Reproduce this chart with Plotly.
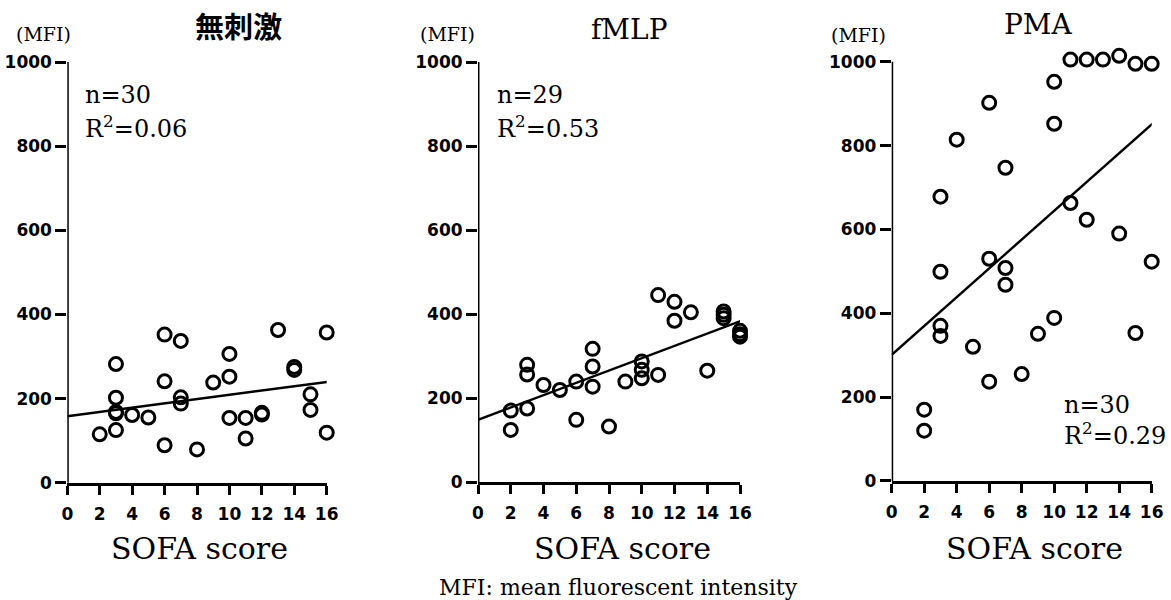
import plotly.graph_objects as go

W, H = 1171, 600

# ---------------- data ----------------
titles = ["無刺激", "fMLP", "PMA"]
n_labels = ["n=30", "n=29", "n=30"]
r2_labels = ["R<sup>2</sup>=0.06", "R<sup>2</sup>=0.53", "R<sup>2</sup>=0.29"]

sofa_nostim = [2, 3, 3, 3, 3, 3, 4, 5, 6, 6, 6, 7, 7, 7, 8, 9, 10, 10, 10, 11, 11, 12, 12, 13, 14, 14, 15, 15, 16, 16]
mfi_nostim = [115, 282, 202, 168, 165, 125, 161, 155, 352, 241, 89, 337, 203, 188, 79, 238, 306, 252, 154, 154, 105, 162, 166, 363, 275, 268, 210, 173, 357, 119]

sofa_fmlp = [2, 2, 3, 3, 3, 4, 5, 6, 6, 7, 7, 7, 8, 9, 10, 10, 10, 11, 11, 12, 12, 13, 14, 15, 15, 15, 16, 16, 16]
mfi_fmlp = [170, 124, 175, 279, 256, 231, 219, 239, 148, 317, 275, 227, 132, 239, 287, 267, 247, 255, 445, 429, 384, 404, 265, 406, 398, 390, 360, 352, 346]

sofa_pma = [2, 2, 3, 3, 3, 3, 4, 5, 6, 6, 6, 7, 7, 7, 8, 9, 10, 10, 10, 11, 11, 12, 12, 13, 14, 14, 15, 15, 16, 16]
mfi_pma = [170, 120, 678, 499, 370, 346, 814, 320, 902, 530, 237, 747, 508, 468, 255, 351, 952, 852, 389, 1005, 663, 1005, 623, 1005, 1014, 590, 995, 353, 995, 523]

fit_x = [[0, 16.3], [0, 16.5], [0, 16.1]]
fit_y = [[158, 241], [148, 390], [301, 854]]

x_ticks = [0, 2, 4, 6, 8, 10, 12, 14, 16]
y_ticks = [0, 200, 400, 600, 800, 1000]
y_axis_span = [0, 1000]
y_range_top = 1040

xs = [sofa_nostim, sofa_fmlp, sofa_pma]
ys = [mfi_nostim, mfi_fmlp, mfi_pma]

# ---------------- layout geometry (pixels) ----------------
px_x = [(67.3, 326.7), (478.0, 740.0), (891.7, 1151.7)]
# (pixel of value 1000, pixel of value 0)
px_y = [(62.0, 482.7), (62.0, 482.0), (61.7, 481.0)]


def fx(p):
    return p / W


def fy(p):
    return 1 - p / H


fig = go.Figure()
layout = dict(
    template="none",
    width=W, height=H,
    margin=dict(l=0, r=0, t=0, b=0, pad=0, autoexpand=False),
    paper_bgcolor="white", plot_bgcolor="white",
    showlegend=False,
)

tickfont = dict(family="DejaVu Sans", size=17, color="black", weight="bold")
serif = "DejaVu Serif"

annotations = []
shapes = []
for i in range(3):
    sx = "" if i == 0 else str(i + 1)
    xa = "x" + sx
    ya = "y" + sx
    top_px = px_y[i][0]
    bot_px = px_y[i][1]
    per_unit = (bot_px - top_px) / 1000.0
    top_dom_px = bot_px - y_range_top * per_unit
    layout["xaxis" + sx] = dict(
        domain=[fx(px_x[i][0]), fx(px_x[i][1])], range=[0, 16], anchor=ya,
        tickvals=x_ticks, ticktext=[str(t) for t in x_ticks],
        showgrid=False, zeroline=False, showline=True, linecolor="black", linewidth=3,
        ticks="outside", ticklen=9, tickwidth=2.5, tickcolor="black",
        tickfont=tickfont, ticklabelstandoff=5, fixedrange=True, automargin=False,
    )
    layout["yaxis" + sx] = dict(
        domain=[fy(bot_px), fy(top_dom_px)], range=[0, y_range_top], anchor=xa,
        tickvals=y_ticks, ticktext=[str(t) for t in y_ticks],
        showgrid=False, zeroline=False, showline=False,
        ticks="outside", ticklen=11, tickwidth=2.5, tickcolor="black",
        tickfont=tickfont, ticklabelstandoff=0, fixedrange=True, automargin=False,
    )
    shapes.append(dict(type="line", xref=xa, yref=ya, x0=0, x1=0,
                       y0=y_axis_span[0], y1=y_axis_span[1],
                       line=dict(color="black", width=3), layer="above"))
    fig.add_trace(go.Scatter(
        x=fit_x[i], y=fit_y[i], mode="lines", xaxis=xa, yaxis=ya,
        line=dict(color="black", width=2.4), cliponaxis=False, hoverinfo="skip",
    ))
    fig.add_trace(go.Scatter(
        x=xs[i], y=ys[i], mode="markers", xaxis=xa, yaxis=ya,
        marker=dict(symbol="circle-open", size=13, color="black", line=dict(width=3, color="black")),
        cliponaxis=False,
    ))

# titles
title_pos = [(239, 25), (629, 29), (1038, 24)]
title_fonts = [dict(family="Noto Sans CJK JP", size=29, color="black", weight="bold"),
               dict(family=serif, size=28, color="black"),
               dict(family=serif, size=28, color="black")]
for i in range(3):
    annotations.append(dict(text=titles[i], x=fx(title_pos[i][0]), y=fy(title_pos[i][1]),
                            xref="paper", yref="paper", showarrow=False,
                            xanchor="center", yanchor="middle", font=title_fonts[i]))

# (MFI) unit labels
mfi_pos = [(44, 34), (447, 34), (858, 35)]
for (x0, y0) in mfi_pos:
    annotations.append(dict(text="(MFI)", x=fx(x0), y=fy(y0), xref="paper", yref="paper",
                            showarrow=False, xanchor="center", yanchor="middle",
                            font=dict(family=serif, size=19, color="black")))

# n and R^2
stat_pos = [((83, 95), (83, 127)), ((495, 95), (495, 127)), ((1062, 405), (1062, 434))]
for i in range(3):
    (nx, ny), (rx, ry) = stat_pos[i]
    annotations.append(dict(text=n_labels[i], x=fx(nx), y=fy(ny), xref="paper", yref="paper",
                            showarrow=False, xanchor="left", yanchor="middle",
                            font=dict(family=serif, size=24, color="black")))
    annotations.append(dict(text=r2_labels[i], x=fx(rx), y=fy(ry), xref="paper", yref="paper",
                            showarrow=False, xanchor="left", yanchor="middle",
                            font=dict(family=serif, size=24, color="black")))

# SOFA score labels
sofa_pos = [(199, 548), (622, 548), (1034, 548)]
for (x0, y0) in sofa_pos:
    annotations.append(dict(text="SOFA score", x=fx(x0), y=fy(y0), xref="paper", yref="paper",
                            showarrow=False, xanchor="center", yanchor="middle",
                            font=dict(family=serif, size=30, color="black")))

# caption
annotations.append(dict(text="MFI: mean fluorescent intensity", x=fx(618), y=fy(587),
                        xref="paper", yref="paper", showarrow=False,
                        xanchor="center", yanchor="middle",
                        font=dict(family=serif, size=22, color="black")))

layout["annotations"] = annotations
layout["shapes"] = shapes
fig.update_layout(**layout)
fig.write_html("out.html")
